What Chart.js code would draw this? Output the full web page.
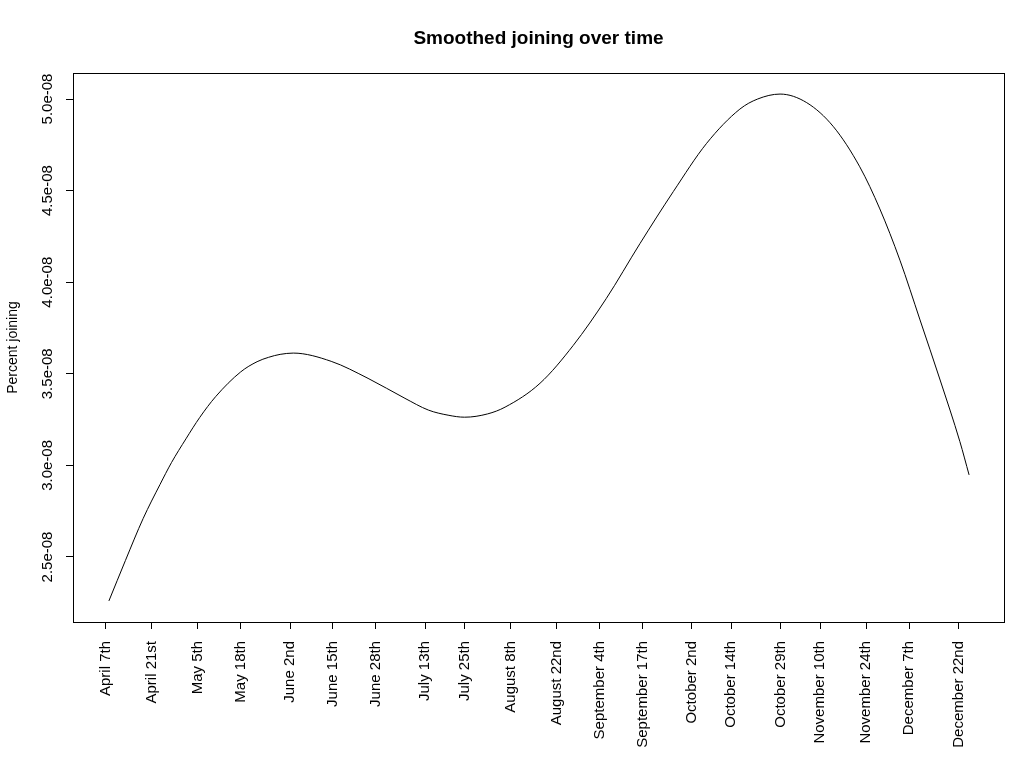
<!DOCTYPE html>
<html>
<head>
<meta charset="utf-8">
<script src="https://cdn.jsdelivr.net/npm/chart.js@4"></script>
<style>
  body { margin: 0; background: #fff; }
  canvas { display: block; }
</style>
</head>
<body>
<canvas id="myChart" width="1024" height="768"></canvas>
<script>
// x values are days since April 7th
const days = [1, 6, 11.4, 16.5, 20, 24.4, 28.6, 33.4, 41, 46, 49.5, 53, 57, 68.5, 79.7, 90.9, 98, 104, 109, 116, 121.3, 131.9, 142, 152, 162.3, 172.4, 182.5, 192.6, 198, 204.8, 212.9, 221, 229, 235.1, 241.2, 247.3, 253.4, 259.4, 262.2];
const joining = [2.26e-8, 2.48e-8, 2.71e-8, 2.895e-8, 3.015e-8, 3.145e-8, 3.262e-8, 3.375e-8, 3.51e-8, 3.566e-8, 3.59e-8, 3.606e-8, 3.613e-8, 3.568e-8, 3.475e-8, 3.366e-8, 3.302e-8, 3.274e-8, 3.263e-8, 3.281e-8, 3.318e-8, 3.448e-8, 3.655e-8, 3.91e-8, 4.212e-8, 4.495e-8, 4.758e-8, 4.945e-8, 5.0e-8, 5.027e-8, 4.98e-8, 4.849e-8, 4.63e-8, 4.40e-8, 4.12e-8, 3.794e-8, 3.466e-8, 3.13e-8, 2.948e-8];

const tickDays = [0, 14, 28, 41, 56, 69, 82, 97, 109, 123, 137, 150, 163, 178, 190, 205, 217, 231, 244, 259];
const tickLabels = ['April 7th', 'April 21st', 'May 5th', 'May 18th', 'June 2nd', 'June 15th', 'June 28th',
  'July 13th', 'July 25th', 'August 8th', 'August 22nd', 'September 4th', 'September 17th',
  'October 2nd', 'October 14th', 'October 29th', 'November 10th', 'November 24th',
  'December 7th', 'December 22nd'];
const yTicks = [2.5e-8, 3.0e-8, 3.5e-8, 4.0e-8, 4.5e-8, 5.0e-8];

const FONT = '"Liberation Sans", Arial, sans-serif';

// box around the plot and the centred title, like base R graphics
const frame = {
  id: 'frame',
  afterDraw(chart) {
    const { ctx, chartArea: a } = chart;
    ctx.save();
    ctx.strokeStyle = '#000';
    ctx.lineWidth = 1;
    ctx.strokeRect(a.left + 0.5, a.top + 0.5, a.right - a.left, a.bottom - a.top);
    ctx.font = 'bold 19px ' + FONT;
    ctx.fillStyle = '#000';
    ctx.textAlign = 'center';
    ctx.textBaseline = 'middle';
    ctx.fillText('Smoothed joining over time', (a.left + a.right) / 2, 39);
    ctx.restore();
  }
};

new Chart(document.getElementById('myChart'), {
  type: 'line',
  data: {
    datasets: [{
      data: days.map((d, i) => ({ x: d, y: joining[i] })),
      borderColor: '#000',
      borderWidth: 1,
      pointRadius: 0,
      fill: false,
      cubicInterpolationMode: 'monotone',
    }],
  },
  options: {
    responsive: false,
    animation: false,
    layout: { padding: { left: 0, right: 20, top: 73, bottom: 0 } },
    plugins: { legend: { display: false }, tooltip: { enabled: false } },
    scales: {
      x: {
        type: 'linear',
        min: -9.9,
        max: 272.8,
        afterBuildTicks: (scale) => { scale.ticks = tickDays.map(v => ({ value: v })); },
        afterFit: (scale) => { scale.height = 146; },
        border: { display: false },
        grid: { drawOnChartArea: false, tickLength: 7, color: '#000' },
        ticks: {
          autoSkip: false,
          minRotation: 90,
          maxRotation: 90,
          padding: 12,
          color: '#000',
          font: { family: FONT, size: 15 },
          callback: (v, i) => tickLabels[i],
        },
      },
      y: {
        min: 2.145e-8,
        max: 5.142e-8,
        afterBuildTicks: (scale) => { scale.ticks = yTicks.map(v => ({ value: v })); },
        afterFit: (scale) => { scale.width = 73; },
        border: { display: false },
        grid: { drawOnChartArea: false, tickLength: 7, color: '#000' },
        title: {
          display: true,
          text: 'Percent joining',
          color: '#000',
          font: { family: FONT, size: 14 },
          padding: { top: 5, bottom: 0 },
        },
        ticks: {
          minRotation: 90,
          maxRotation: 90,
          crossAlign: 'center',
          padding: -7,
          color: '#000',
          font: { family: FONT, size: 15 },
          callback: (v) => (v * 1e8).toFixed(1) + 'e-08',
        },
      },
    },
  },
  plugins: [frame],
});
</script>
</body>
</html>
